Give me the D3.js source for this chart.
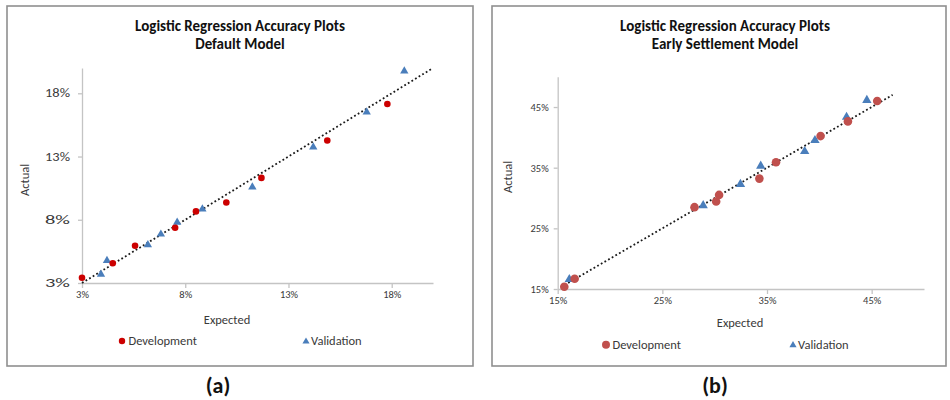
<!DOCTYPE html>
<html>
<head>
<meta charset="utf-8">
<script src="https://cdn.jsdelivr.net/npm/d3@7"></script>
<style>
  html, body { margin: 0; padding: 0; background: #fff; }
  svg { display: block; font-family: Carlito, Lato, "Open Sans", sans-serif; }
</style>
</head>
<body>
<svg id="chart" width="950" height="400"></svg>
<script>
// Default model: expected vs actual rates (%)
const defaultDevExpected = [3.0, 4.49, 5.57, 7.51, 8.52, 9.99, 11.69, 14.88, 17.79];
const defaultDevActual   = [3.42, 4.56, 5.94, 7.37, 8.66, 9.37, 11.31, 14.27, 17.15];
const defaultValExpected = [3.92, 4.21, 6.19, 6.82, 7.61, 8.83, 11.25, 14.20, 16.79, 18.61];
const defaultValActual   = [3.69, 4.77, 6.02, 6.86, 7.79, 8.85, 10.59, 13.74, 16.52, 19.75];
const defaultTicks  = [3, 8, 13, 18];
const defaultDomain = [3, 20];
const defaultFit    = [3, 20];

// Early settlement model: expected vs actual rates (%)
const earlyDevExpected = [15.63, 16.62, 28.07, 30.14, 30.42, 34.27, 35.86, 40.12, 42.73, 45.53];
const earlyDevActual   = [15.38, 16.69, 28.49, 29.42, 30.51, 33.2, 35.89, 40.21, 42.63, 46.0];
const earlyValExpected = [16.11, 28.9, 32.46, 34.4, 38.6, 39.58, 42.6, 44.54];
const earlyValActual   = [16.6, 28.77, 32.27, 35.28, 37.7, 39.5, 43.34, 46.13];
const earlyTicks  = [15, 25, 35, 45];
const earlyDomain = [15, 50];
const earlyFit    = [16, 47];

const seriesNames = ["Development", "Validation"];

const svg = d3.select("#chart");

function zip(xs, ys) { return xs.map((x, i) => ({ x, y: ys[i] })); }

function drawPanel(p) {
  const g = svg.append("g");

  // outer chart frame
  g.append("rect")
    .attr("x", p.frame[0]).attr("y", p.frame[1])
    .attr("width", p.frame[2]).attr("height", p.frame[3])
    .attr("fill", "#fff").attr("stroke", "#8f8f8f").attr("stroke-width", 1.6);

  // titles
  p.title.forEach((t, i) => {
    g.append("text")
      .attr("x", p.titleX).attr("y", 31 + i * 18)
      .attr("text-anchor", "middle")
      .attr("font-size", 15).attr("font-weight", "bold").attr("fill", "#111")
      .text(t);
  });

  const x = d3.scaleLinear().domain(p.domain).range([p.plot.left, p.plot.right]);
  const y = d3.scaleLinear().domain(p.domain).range([p.plot.bottom, p.plot.top]);

  // axes
  const yAxis = g.append("g")
    .attr("transform", `translate(${p.plot.left},0)`)
    .call(d3.axisLeft(y).tickValues(p.ticks).tickSize(4).tickSizeOuter(0)
      .tickPadding(p.yPad).tickFormat(d => d + "%"));
  const xAxis = g.append("g")
    .attr("transform", `translate(0,${p.plot.bottom})`)
    .call(d3.axisBottom(x).tickValues(p.ticks).tickSize(5).tickSizeOuter(0)
      .tickPadding(3).tickFormat(d => d + "%"));
  [xAxis, yAxis].forEach(a => {
    a.select(".domain").attr("stroke", "#c4c4c4").attr("stroke-width", 1.3);
    a.selectAll(".tick line").attr("stroke", "#c4c4c4").attr("stroke-width", 1.3);
    a.selectAll(".tick text").attr("fill", "#3a3a3a")
      .attr("font-family", "Carlito, Lato, sans-serif");
  });
  yAxis.selectAll(".tick text").attr("font-size", p.yFont);
  if (p.yLabelWidth) {
    yAxis.selectAll(".tick text")
      .attr("textLength", p.yLabelWidth).attr("lengthAdjust", "spacingAndGlyphs");
  }
  xAxis.selectAll(".tick text").attr("font-size", p.xFont);

  // axis titles
  g.append("text")
    .attr("transform", `translate(${p.actualX},${p.actualY}) rotate(-90)`)
    .attr("text-anchor", "middle").attr("dy", "0.35em")
    .attr("font-size", 12.5).attr("fill", "#3a3a3a")
    .text("Actual");
  g.append("text")
    .attr("x", p.expectedX).attr("y", p.expectedY).attr("dy", "0.35em")
    .attr("text-anchor", "middle")
    .attr("font-size", 12.5).attr("fill", "#3a3a3a")
    .text("Expected");

  // dotted fit line
  g.append("line")
    .attr("x1", x(p.fit[0])).attr("y1", y(p.fit[0]))
    .attr("x2", x(p.fit[1])).attr("y2", y(p.fit[1]))
    .attr("stroke", "#1a1a1a").attr("stroke-width", 1.8)
    .attr("stroke-dasharray", "1.8 2.4");

  const tri = d3.symbol().type(d3.symbolTriangle).size(p.triSize);

  // validation points
  g.append("g").selectAll("path")
    .data(zip(p.valX, p.valY)).join("path")
    .attr("d", tri)
    .attr("transform", d => `translate(${x(d.x)},${y(d.y)})`)
    .attr("fill", "#4a7ebb");

  // development points
  g.append("g").selectAll("circle")
    .data(zip(p.devX, p.devY)).join("circle")
    .attr("cx", d => x(d.x)).attr("cy", d => y(d.y))
    .attr("r", p.dotR)
    .attr("fill", p.devColor);

  // legend
  const lg = g.append("g");
  lg.append("circle")
    .attr("cx", p.legend[0]).attr("cy", p.legendY).attr("r", p.legendDotR)
    .attr("fill", p.devColor);
  lg.append("text")
    .attr("x", p.legend[0] + 6.5).attr("y", p.legendY).attr("dy", "0.35em")
    .attr("font-size", 12.5).attr("fill", "#3a3a3a")
    .text(seriesNames[0]);
  lg.append("path")
    .attr("d", d3.symbol().type(d3.symbolTriangle).size(22)())
    .attr("transform", `translate(${p.legend[1]},${p.legendY + 0.5})`)
    .attr("fill", "#4a7ebb");
  lg.append("text")
    .attr("x", p.legend[1] + 5).attr("y", p.legendY).attr("dy", "0.35em")
    .attr("font-size", 12.5).attr("fill", "#3a3a3a")
    .text(seriesNames[1]);

  // panel letter
  g.append("text")
    .attr("x", p.letterX).attr("y", 385).attr("dy", "0.35em")
    .attr("text-anchor", "middle")
    .attr("font-size", 22).attr("font-weight", "bold").attr("fill", "#111")
    .text(p.letter);
}

drawPanel({
  frame: [7, 6, 466, 360],
  title: ["Logistic Regression Accuracy Plots", "Default Model"],
  titleX: 240,
  domain: defaultDomain, ticks: defaultTicks, fit: defaultFit,
  plot: { left: 82, right: 433, top: 68, bottom: 283 },
  yPad: 8, yFont: 11.5, yLabelWidth: 25, xFont: 10.5,
  actualX: 25, actualY: 180,
  expectedX: 227, expectedY: 320,
  devX: defaultDevExpected, devY: defaultDevActual,
  valX: defaultValExpected, valY: defaultValActual,
  devColor: "#cc0000", dotR: 3.3, triSize: 30,
  legend: [122, 306], legendY: 341, legendDotR: 3.2,
  letter: "(a)", letterX: 218
});

drawPanel({
  frame: [492, 6, 454, 360],
  title: ["Logistic Regression Accuracy Plots", "Early Settlement Model"],
  titleX: 725,
  domain: earlyDomain, ticks: earlyTicks, fit: earlyFit,
  plot: { left: 557.7, right: 924, top: 76.7, bottom: 289 },
  yPad: 5, yFont: 10.5, yLabelWidth: null, xFont: 10.5,
  actualX: 508, actualY: 177,
  expectedX: 740, expectedY: 323,
  devX: earlyDevExpected, devY: earlyDevActual,
  valX: earlyValExpected, valY: earlyValActual,
  devColor: "#c0504d", dotR: 4.3, triSize: 38,
  legend: [606, 793], legendY: 344.7, legendDotR: 4,
  letter: "(b)", letterX: 715
});
</script>
</body>
</html>
